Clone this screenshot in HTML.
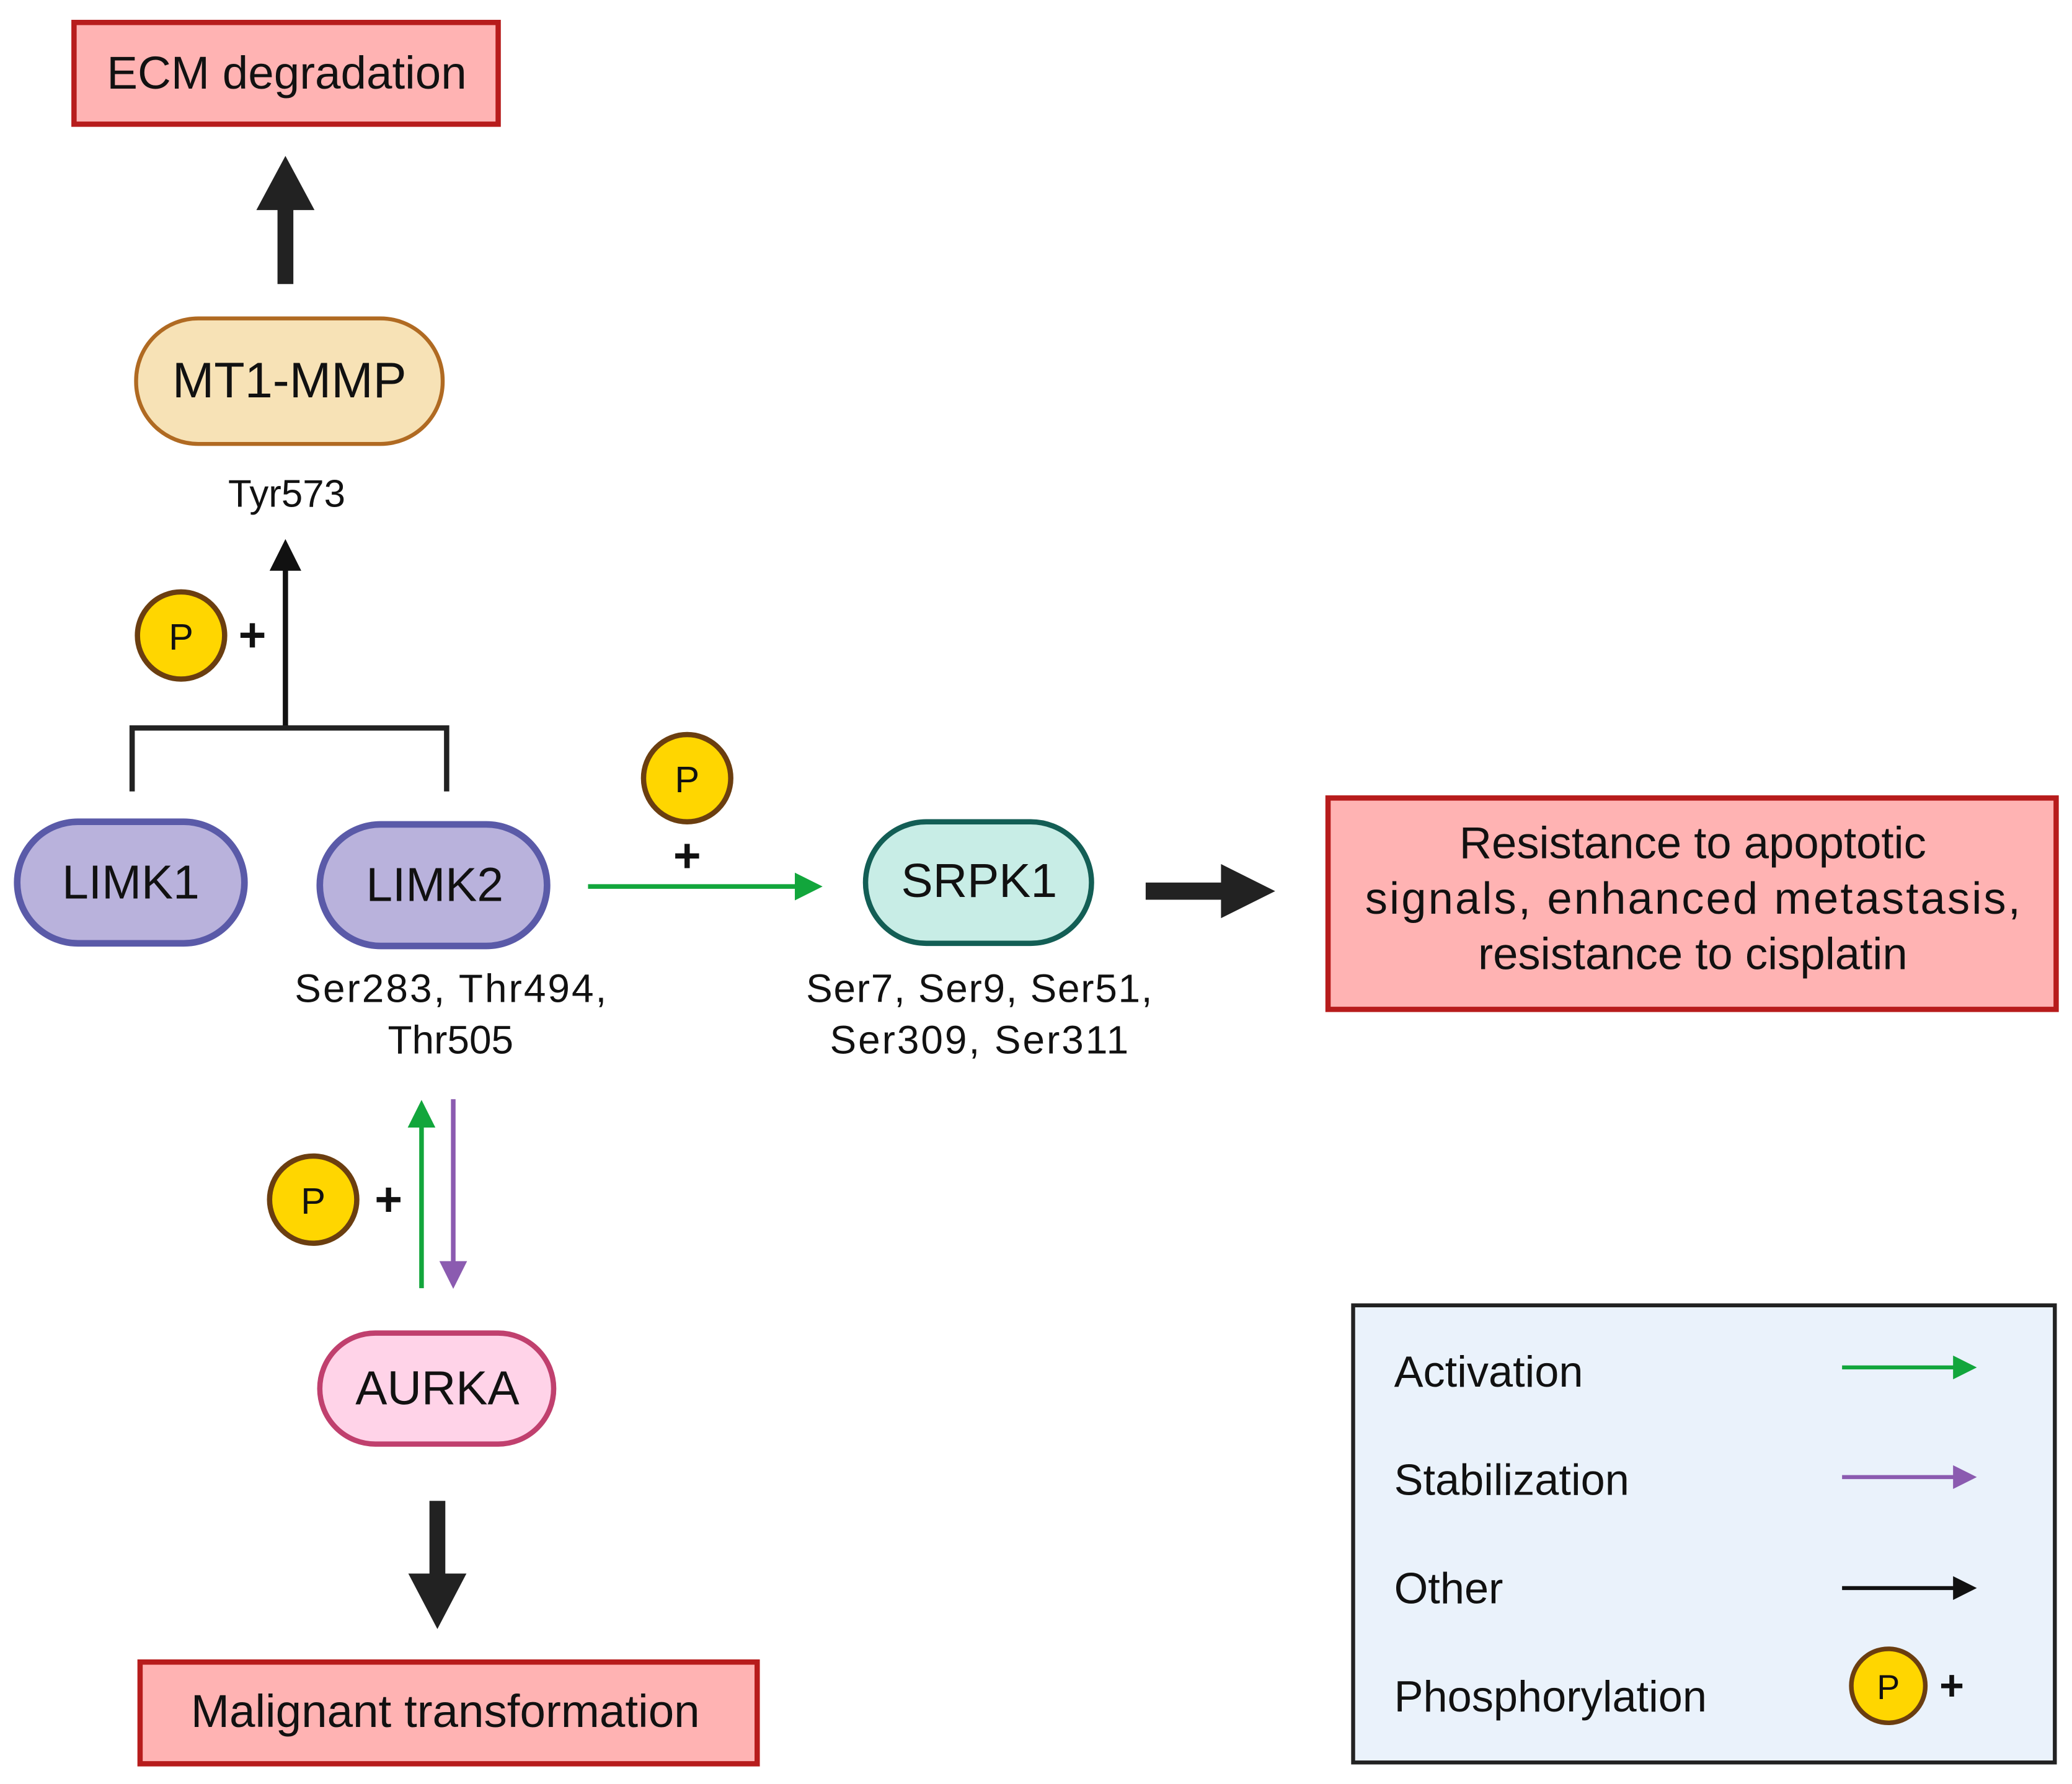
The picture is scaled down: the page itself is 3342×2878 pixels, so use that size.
<!DOCTYPE html>
<html><head><meta charset="utf-8"><style>
html,body{margin:0;padding:0;background:#fff;}
svg{display:block;}
text{font-family:"Liberation Sans",sans-serif;fill:#111;}
</style></head><body>
<svg width="3342" height="2878" viewBox="0 0 1568 1350.3" preserveAspectRatio="none" xmlns="http://www.w3.org/2000/svg">
<defs>
<marker id="ag" markerWidth="6" markerHeight="6" refX="5" refY="3" orient="auto" markerUnits="strokeWidth"><path d="M0,0 L6,3 L0,6 z" fill="#12a63c"/></marker>
<marker id="ap" markerWidth="6" markerHeight="6" refX="5" refY="3" orient="auto" markerUnits="strokeWidth"><path d="M0,0 L6,3 L0,6 z" fill="#8b5bb0"/></marker>
<marker id="ak" markerWidth="6" markerHeight="6" refX="5" refY="3" orient="auto" markerUnits="strokeWidth"><path d="M0,0 L6,3 L0,6 z" fill="#111"/></marker>
</defs>

<rect x="56" y="17" width="321" height="77" fill="#ffb3b3" stroke="#b71c1c" stroke-width="4"/>
<text x="217" y="55" font-size="35" text-anchor="middle" dominant-baseline="central">ECM degradation</text>
<rect x="210" y="157" width="12" height="58" fill="#222"/>
<path d="M194,159 L238,159 L216,118 z" fill="#222"/>

<rect x="103" y="241" width="232" height="95" rx="47" fill="#f7e2b6" stroke="#b06a22" stroke-width="3"/>
<text x="219" y="288" font-size="38" text-anchor="middle" dominant-baseline="central">MT1-MMP</text>
<text x="217" y="374" font-size="29" text-anchor="middle" dominant-baseline="central">Tyr573</text>

<line x1="216" y1="551" x2="216" y2="412" stroke="#111" stroke-width="4" marker-end="url(#ak)"/>
<circle cx="137" cy="481" r="33" fill="#ffd600" stroke="#6b3e10" stroke-width="4"/>
<text x="137" y="482" font-size="28" text-anchor="middle" dominant-baseline="central">P</text>
<text x="191" y="481" font-size="36" font-weight="bold" text-anchor="middle" dominant-baseline="central">+</text>
<path d="M100,599 L100,551 L338,551 L338,599" fill="none" stroke="#222" stroke-width="4"/>

<rect x="13" y="622" width="172" height="92" rx="46" fill="#b9b2dc" stroke="#5a5aa8" stroke-width="5"/>
<text x="99" y="668" font-size="36" text-anchor="middle" dominant-baseline="central">LIMK1</text>
<rect x="242" y="624" width="172" height="92" rx="46" fill="#b9b2dc" stroke="#5a5aa8" stroke-width="5"/>
<text x="329" y="670" font-size="36" text-anchor="middle" dominant-baseline="central">LIMK2</text>
<text x="341" y="748" font-size="30" text-anchor="middle" dominant-baseline="central" textLength="236">Ser283, Thr494,</text>
<text x="341" y="787" font-size="30" text-anchor="middle" dominant-baseline="central">Thr505</text>

<line x1="445" y1="671" x2="619" y2="671" stroke="#12a63c" stroke-width="3.5" marker-end="url(#ag)"/>
<circle cx="520" cy="589" r="33" fill="#ffd600" stroke="#6b3e10" stroke-width="4"/>
<text x="520" y="590" font-size="28" text-anchor="middle" dominant-baseline="central">P</text>
<text x="520" y="648" font-size="36" font-weight="bold" text-anchor="middle" dominant-baseline="central">+</text>

<rect x="655" y="622" width="171" height="92" rx="46" fill="#c8ede6" stroke="#135e55" stroke-width="4"/>
<text x="741" y="667" font-size="36" text-anchor="middle" dominant-baseline="central">SRPK1</text>
<text x="741" y="748" font-size="30" text-anchor="middle" dominant-baseline="central" textLength="262">Ser7, Ser9, Ser51,</text>
<text x="741" y="787" font-size="30" text-anchor="middle" dominant-baseline="central" textLength="226">Ser309, Ser311</text>

<rect x="867" y="668" width="60" height="13" fill="#222"/>
<path d="M924,654 L965,674.5 L924,695 z" fill="#222"/>

<rect x="1005" y="604" width="551" height="160" fill="#ffb3b3" stroke="#b71c1c" stroke-width="4"/>
<text x="1281" y="638" font-size="34" text-anchor="middle" dominant-baseline="central">Resistance to apoptotic</text>
<text x="1281" y="680" font-size="34" text-anchor="middle" dominant-baseline="central" textLength="496">signals, enhanced metastasis,</text>
<text x="1281" y="722" font-size="34" text-anchor="middle" dominant-baseline="central">resistance to cisplatin</text>

<line x1="319" y1="975" x2="319" y2="836" stroke="#12a63c" stroke-width="3.5" marker-end="url(#ag)"/>
<line x1="343" y1="832" x2="343" y2="972" stroke="#8b5bb0" stroke-width="3.5" marker-end="url(#ap)"/>
<circle cx="237" cy="908" r="33" fill="#ffd600" stroke="#6b3e10" stroke-width="4"/>
<text x="237" y="909" font-size="28" text-anchor="middle" dominant-baseline="central">P</text>
<text x="294" y="908" font-size="36" font-weight="bold" text-anchor="middle" dominant-baseline="central">+</text>

<rect x="242" y="1009" width="177" height="84" rx="42" fill="#ffd3e8" stroke="#c0406e" stroke-width="4"/>
<text x="331" y="1051" font-size="36" text-anchor="middle" dominant-baseline="central">AURKA</text>

<rect x="325" y="1136" width="12" height="58" fill="#222"/>
<path d="M309,1191 L353,1191 L331,1233 z" fill="#222"/>

<rect x="106" y="1258" width="467" height="77" fill="#ffb3b3" stroke="#b71c1c" stroke-width="4"/>
<text x="337" y="1295" font-size="35" text-anchor="middle" dominant-baseline="central">Malignant transformation</text>

<rect x="1024" y="988" width="531" height="346" fill="#eaf2fb" stroke="#222" stroke-width="3"/>
<text x="1055" y="1038" font-size="33" dominant-baseline="central">Activation</text>
<text x="1055" y="1120" font-size="33" dominant-baseline="central">Stabilization</text>
<text x="1055" y="1202" font-size="33" dominant-baseline="central">Other</text>
<text x="1055" y="1284" font-size="33" dominant-baseline="central">Phosphorylation</text>
<line x1="1394" y1="1035" x2="1493" y2="1035" stroke="#12a63c" stroke-width="3" marker-end="url(#ag)"/>
<line x1="1394" y1="1118" x2="1493" y2="1118" stroke="#8b5bb0" stroke-width="3" marker-end="url(#ap)"/>
<line x1="1394" y1="1202" x2="1493" y2="1202" stroke="#111" stroke-width="3" marker-end="url(#ak)"/>
<circle cx="1429" cy="1276" r="28" fill="#ffd600" stroke="#6b3e10" stroke-width="3.5"/>
<text x="1429" y="1277" font-size="26" text-anchor="middle" dominant-baseline="central">P</text>
<text x="1477" y="1276" font-size="32" font-weight="bold" text-anchor="middle" dominant-baseline="central">+</text>
</svg>
</body></html>
